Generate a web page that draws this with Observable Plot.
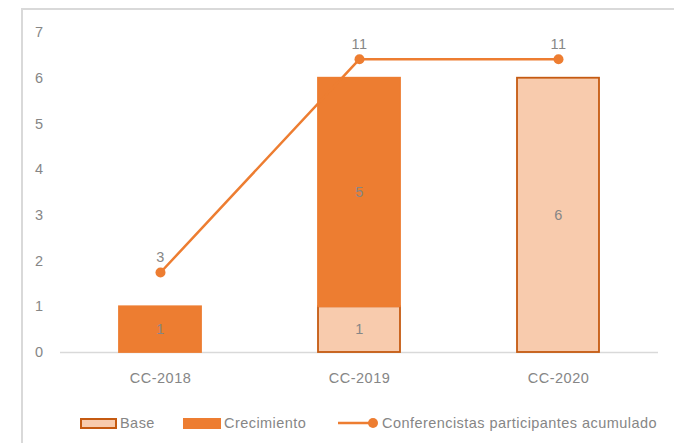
<!DOCTYPE html>
<html>
<head>
<meta charset="utf-8">
<script src="https://cdn.jsdelivr.net/npm/d3@7"></script>
<script src="https://cdn.jsdelivr.net/npm/@observablehq/plot@0.6"></script>
<style>
  html, body { margin: 0; padding: 0; background: #fff; }
  #chart { position: relative; width: 674px; height: 443px; overflow: hidden; font-family: "Liberation Sans", Arial, sans-serif; }
  #chart svg { position: absolute; left: 0; top: 0; }
  #chart svg text { letter-spacing: 0.5px; }
  #frame { position: absolute; left: 21px; top: 8px; width: 800px; height: 600px; border-left: 2px solid #d9d9d9; border-top: 2px solid #d9d9d9; pointer-events: none; }
  .lg { position: absolute; top: 412px; height: 22px; display: flex; align-items: center; font-size: 14.5px; letter-spacing: 0.45px; color: #868686; white-space: nowrap; }
  .sw { display: inline-block; box-sizing: border-box; }
</style>
</head>
<body>
<div id="chart"></div>
<script>
// ---- data ----
const categories = ["CC-2018", "CC-2019", "CC-2020"];
const base = [0, 1, 6];
const crecimiento = [1, 5, 0];
const acumulado = [3, 11, 11];
const seriesNames = ["Base", "Crecimiento", "Conferencistas participantes acumulado"];
const yTicks = [0, 1, 2, 3, 4, 5, 6, 7];

// ---- styles ----
const fillColors = {Base: "#F8CBAD", Crecimiento: "#ED7D31"};
const strokeColors = {Base: "#C55A11", Crecimiento: "#ED7D31"};
const lineColor = "#ED7D31";
const textColor = "#868686";

const rows = [];
categories.forEach((c, i) => {
  rows.push({cat: c, series: "Base", value: base[i]});
  rows.push({cat: c, series: "Crecimiento", value: crecimiento[i]});
});
const barRows = rows.filter(d => d.value > 0);
const lineRows = categories.map((c, i) => ({cat: c, value: acumulado[i]}));

const W = 674, H = 400;
const common = {
  width: W, height: H,
  marginLeft: 60, marginRight: 16, marginTop: 32, marginBottom: 48,
  style: {background: "transparent", fontFamily: "Liberation Sans, Arial, sans-serif", fontSize: "14.5px", color: textColor, overflow: "visible"}
};

const main = Plot.plot({
  ...common,
  x: {type: "band", domain: categories, paddingInner: 0.59, paddingOuter: 0.295, label: null, tickSize: 0, tickPadding: 20},
  y: {domain: [0, 7], ticks: yTicks, label: null, tickSize: 0, tickPadding: 17, tickFormat: d3.format("d")},
  marks: [
    Plot.ruleY([0], {stroke: "#d9d9d9", strokeWidth: 1.5}),
    Plot.barY(barRows, Plot.stackY({
      x: "cat", y: "value", z: "series",
      fill: d => fillColors[d.series],
      stroke: d => strokeColors[d.series],
      strokeWidth: 1.8,
      order: ["Base", "Crecimiento"]
    })),
    Plot.text(barRows, Plot.stackY({
      x: "cat", y: "value", z: "series",
      order: ["Base", "Crecimiento"],
      text: d => String(d.value),
      fill: textColor, fontSize: 14.5
    }))
  ]
});

const overlay = Plot.plot({
  ...common,
  x: {type: "point", domain: categories, padding: 0.5, axis: null},
  y: {domain: [0, 12], axis: null},
  marks: [
    Plot.line(lineRows, {x: "cat", y: "value", stroke: lineColor, strokeWidth: 2.5}),
    Plot.dot(lineRows, {x: "cat", y: "value", fill: lineColor, r: 5}),
    Plot.text(lineRows, {x: "cat", y: "value", text: d => String(d.value), dy: -15, fill: textColor, fontSize: 14.5})
  ]
});

const chart = document.getElementById("chart");
chart.appendChild(main);
chart.appendChild(overlay);

const frame = document.createElement("div");
frame.id = "frame";
chart.appendChild(frame);

// ---- legend (HTML, below the SVG) ----
function legendItem(left, swatchHtml, label) {
  const el = document.createElement("div");
  el.className = "lg";
  el.style.left = left + "px";
  el.innerHTML = swatchHtml + `<span style="margin-left:3px">${label}</span>`;
  chart.appendChild(el);
}
legendItem(80,
  `<span class="sw" style="width:37px;height:11px;background:${fillColors.Base};border:2px solid ${strokeColors.Base}"></span>`,
  seriesNames[0]);
legendItem(183,
  `<span class="sw" style="width:38px;height:11px;background:${fillColors.Crecimiento}"></span>`,
  seriesNames[1]);
legendItem(338,
  `<svg width="41" height="12" style="position:static;display:block"><line x1="0" y1="6" x2="36" y2="6" stroke="${lineColor}" stroke-width="2.5"/><circle cx="35" cy="6" r="5" fill="${lineColor}"/></svg>`,
  seriesNames[2]);
</script>
</body>
</html>
